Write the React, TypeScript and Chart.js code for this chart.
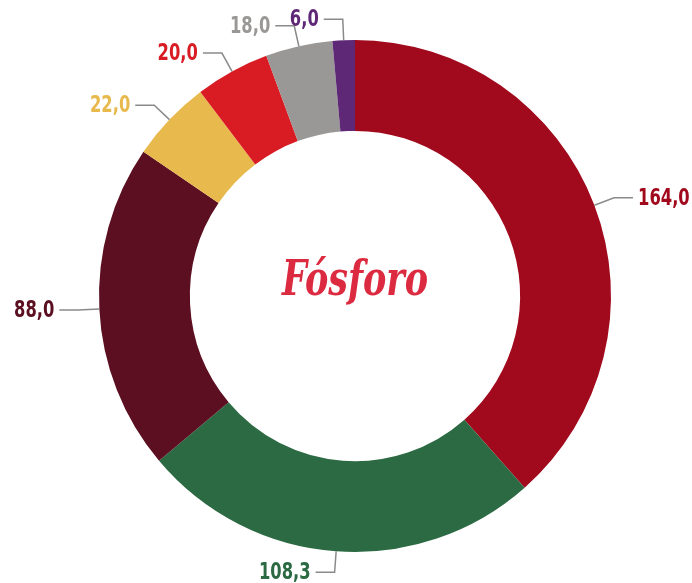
import React, { useEffect, useRef } from "react";
import { Chart, registerables } from "chart.js";

Chart.register(...registerables);

const categories = ["A", "B", "C", "D", "E", "F", "G"];
const values = [164.0, 108.3, 88.0, 22.0, 20.0, 18.0, 6.0];
const valueLabels = ["164,0", "108,3", "88,0", "22,0", "20,0", "18,0", "6,0"];
const colors = ["#a10a1d", "#2b6a42", "#5b0f21", "#e8b94d", "#d91c24", "#999896", "#5f2877"];
const centerTitle = "Fósforo";

const labelPlugin = {
  id: "outerLabels",
  afterDatasetsDraw(chart: any) {
    const ctx = chart.ctx;
    const meta = chart.getDatasetMeta(0);
    ctx.save();
    meta.data.forEach((arc: any, i: number) => {
      const p = arc.getProps(["x", "y", "startAngle", "endAngle", "outerRadius"], true);
      const mid = (p.startAngle + p.endAngle) / 2;
      const cx = Math.cos(mid);
      const sy = Math.sin(mid);
      const x0 = p.x + cx * p.outerRadius;
      const y0 = p.y + sy * p.outerRadius;
      const r1 = p.outerRadius + 21;
      const x1 = p.x + cx * r1;
      const y1 = p.y + sy * r1;
      const right = cx >= 0;
      const x2 = x1 + (right ? 19 : -19);
      ctx.strokeStyle = "#8a8a8a";
      ctx.lineWidth = 1.5;
      ctx.beginPath();
      ctx.moveTo(x0, y0);
      ctx.lineTo(x1, y1);
      ctx.lineTo(x2, y1);
      ctx.stroke();
      ctx.save();
      const tx = x2 + (right ? 5 : -5);
      ctx.translate(tx, y1 + 1);
      ctx.scale(0.79, 1);
      ctx.font = "bold 23px 'DejaVu Sans Condensed', 'DejaVu Sans', sans-serif";
      ctx.fillStyle = colors[i];
      ctx.textBaseline = "middle";
      ctx.textAlign = right ? "left" : "right";
      ctx.fillText(valueLabels[i], 0, 0);
      ctx.restore();
    });
    const a0 = meta.data[0];
    ctx.save();
    ctx.font = "italic bold 48px 'DejaVu Serif', serif";
    const w = ctx.measureText(centerTitle).width;
    const s = 146 / w;
    ctx.translate(a0.x, a0.y - 1);
    ctx.scale(s, 1);
    ctx.fillStyle = "#dc2a40";
    ctx.textAlign = "center";
    ctx.textBaseline = "alphabetic";
    ctx.fillText(centerTitle, 0, 0);
    ctx.restore();
    ctx.restore();
  },
};

export default function App() {
  const ref = useRef<HTMLCanvasElement>(null);
  useEffect(() => {
    if (!ref.current) return;
    const chart = new Chart(ref.current, {
      type: "doughnut",
      data: {
        labels: categories,
        datasets: [
          {
            data: values,
            backgroundColor: colors,
            borderWidth: 0,
          },
        ],
      },
      options: {
        animation: false,
        responsive: true,
        maintainAspectRatio: false,
        cutout: "64.5%",
        layout: { padding: { top: 40, bottom: 31, left: 99, right: 81 } },
        plugins: {
          legend: { display: false },
          tooltip: { enabled: false },
        },
      },
      plugins: [labelPlugin],
    });
    return () => chart.destroy();
  }, []);
  return (
    <div style={{ position: "absolute", left: 0, top: 0, width: 692, height: 583, background: "#fff" }}>
      <canvas ref={ref} />
    </div>
  );
}
